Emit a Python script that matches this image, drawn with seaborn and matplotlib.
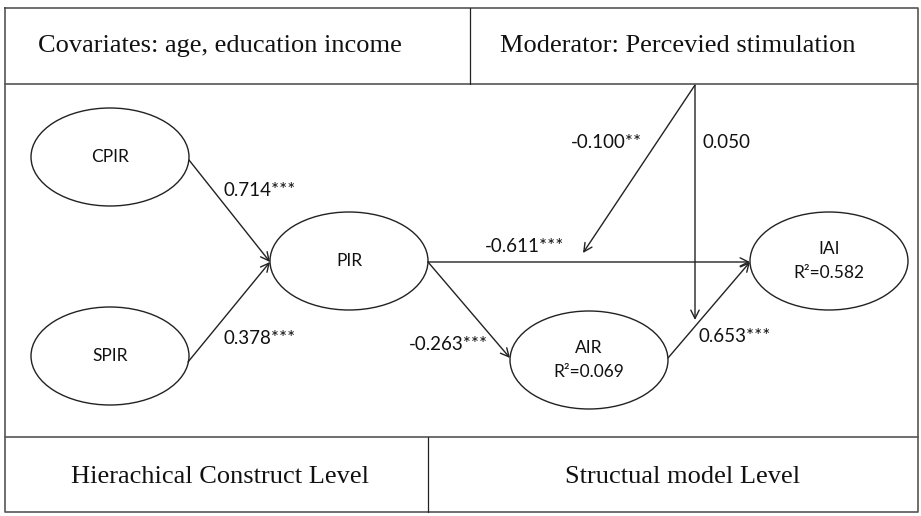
import matplotlib
matplotlib.use("Agg")
import matplotlib.pyplot as plt
import seaborn as sns
from matplotlib.patches import Ellipse, FancyArrowPatch

#### Data
node_names = ["CPIR", "SPIR", "PIR", "AIR", "IAI"]
node_r2 = {"AIR": "0.069", "IAI": "0.582"}
path_from = ["CPIR", "SPIR", "PIR", "PIR", "AIR"]
path_to = ["PIR", "PIR", "IAI", "AIR", "IAI"]
path_coef = ["0.714***", "0.378***", "-0.611***", "-0.263***", "0.653***"]
moderator_coef = ["-0.100**", "0.050"]
header_labels = ["Covariates: age, education income", "Moderator: Percevied stimulation"]
footer_labels = ["Hierachical Construct Level", "Structual model Level"]

#### Layout (pixel space)
W, H = 921, 516
centers = {"CPIR": (110, 157), "SPIR": (110, 356), "PIR": (349, 261),
           "AIR": (589, 360), "IAI": (829, 261)}
ew, eh = 158, 98
path_start = [(189, 160), (188, 362), (428, 262), (428, 262), (668, 358)]
path_end = [(270, 262), (270, 262), (750, 262), (510, 358), (750, 262)]
path_label_pos = [(223, 190), (223, 338), (485, 246), (409, 345), (698, 337)]
mod_origin = (695, 85)
mod_end = [(583, 253), (695, 320)]
mod_label_pos = [(571, 142), (702, 142)]

sns.set_theme(style="white")
plt.rcParams["font.family"] = ["Lato", "DejaVu Sans"]

fig = plt.figure(figsize=(W / 100, H / 100), dpi=100)
ax = fig.add_axes([0, 0, 1, 1])
ax.set_xlim(0, W)
ax.set_ylim(H, 0)
ax.axis("off")

lc = "#222222"
serif = ["Liberation Serif", "DejaVu Serif"]
txt = "#111111"

# frame and table rows
ax.plot([5, 918, 918, 5, 5], [8, 8, 512, 512, 8], color="#555555", lw=1.2)
ax.plot([5, 918], [84, 84], color="#555555", lw=1.2)
ax.plot([5, 918], [437, 437], color="#555555", lw=1.2)
ax.plot([470, 470], [8, 84], color=lc, lw=0.9)
ax.plot([428, 428], [437, 512], color=lc, lw=0.9)

hfs = 19
ax.text(220, 46, header_labels[0], family=serif, fontsize=hfs, ha="center", va="center", color=txt)
ax.text(678, 46, header_labels[1], family=serif, fontsize=hfs, ha="center", va="center", color=txt)
ax.text(220, 477, footer_labels[0], family=serif, fontsize=hfs, ha="center", va="center", color=txt)
ax.text(683, 477, footer_labels[1], family=serif, fontsize=hfs, ha="center", va="center", color=txt)

# nodes
for name in node_names:
    cx, cy = centers[name]
    ax.add_patch(Ellipse((cx, cy), ew, eh, fill=False, ec=lc, lw=1.0))
    if name in node_r2:
        ax.text(cx, cy - 12, name, fontsize=12.5, ha="center", va="center", color=txt)
        ax.text(cx, cy + 12, "R\u00b2=" + node_r2[name], fontsize=12.5, ha="center", va="center", color=txt)
    else:
        ax.text(cx, cy, name, fontsize=12.5, ha="center", va="center", color=txt)

def arrow(p0, p1):
    ax.add_patch(FancyArrowPatch(p0, p1, arrowstyle="->,head_length=6,head_width=3",
                                 mutation_scale=1, color=lc, lw=1.0,
                                 shrinkA=0, shrinkB=0))

# structural paths
for p0, p1, lab, pos in zip(path_start, path_end, path_coef, path_label_pos):
    arrow(p0, p1)
    ax.text(pos[0], pos[1], lab, fontsize=13.5, ha="left", va="center", color=txt)

# moderator paths
for p1, lab, pos in zip(mod_end, moderator_coef, mod_label_pos):
    arrow(mod_origin, p1)
    ax.text(pos[0], pos[1], lab, fontsize=13.5, ha="left", va="center", color=txt)

fig.savefig("out.png", dpi=100)
